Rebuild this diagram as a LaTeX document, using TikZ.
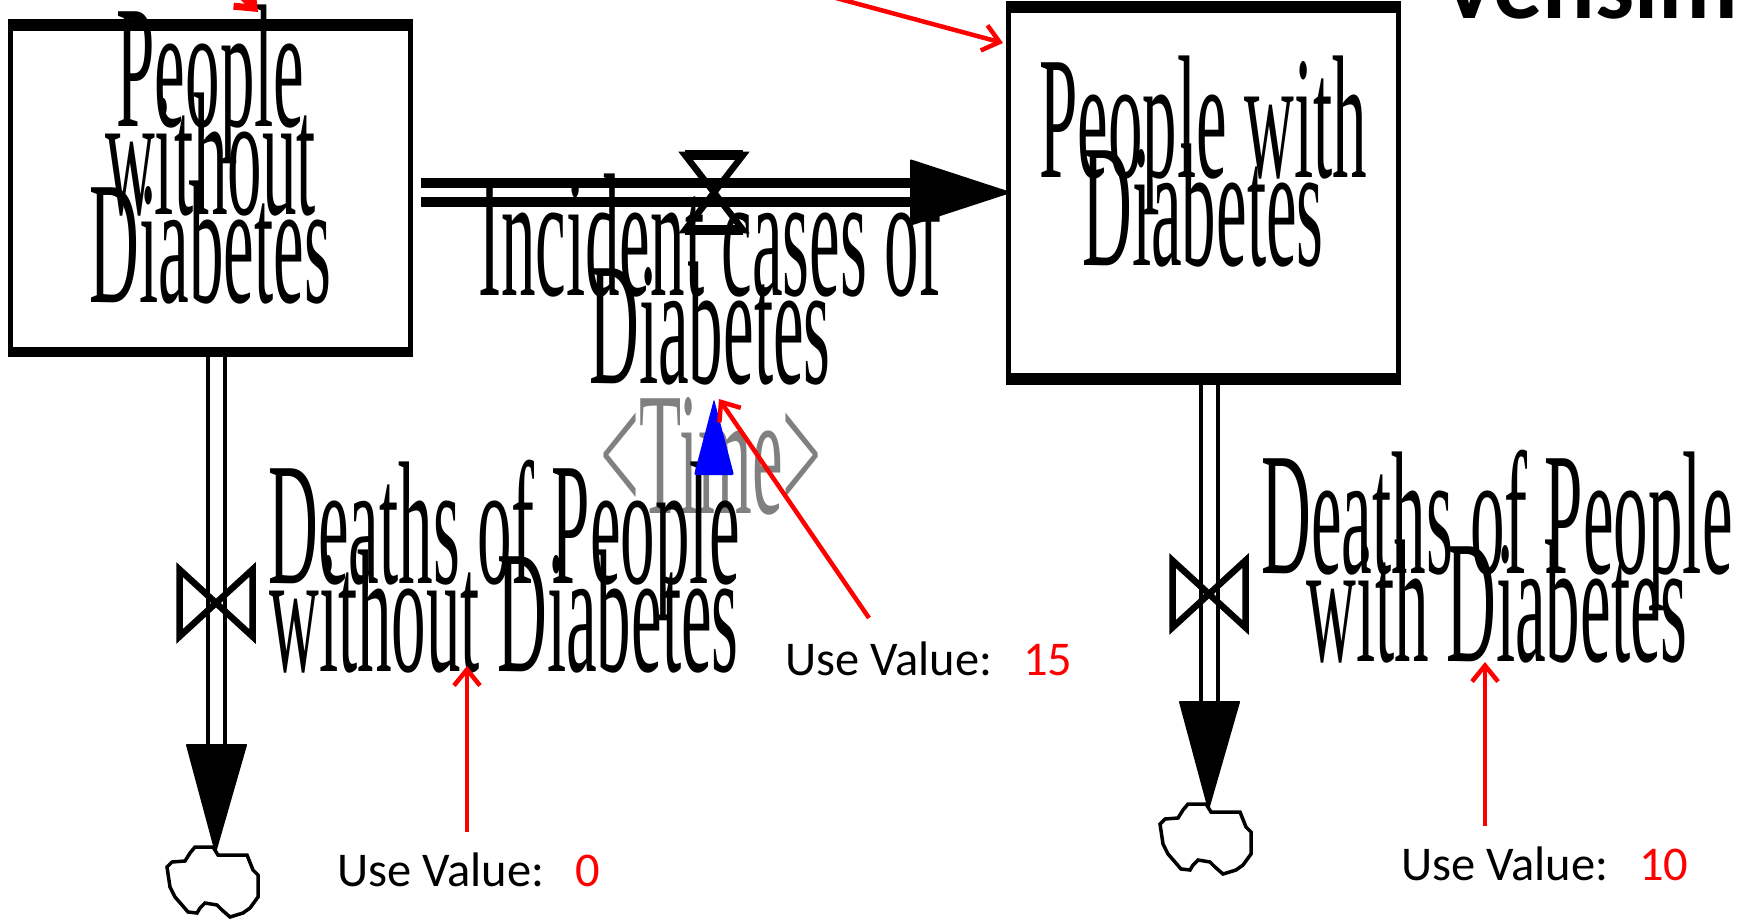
\documentclass[tikz,border=0pt]{standalone}
\usepackage{fontspec}
\setmainfont{Liberation Serif}
\newfontfamily\calfont{Carlito}
\usetikzlibrary{arrows.meta}
\definecolor{vred}{RGB}{255,0,0}
\definecolor{vblue}{RGB}{0,0,255}
\definecolor{vgray}{RGB}{128,128,128}
\newcommand\vt[2][34.6pt]{\scalebox{1}[2.54]{\vbox{\lineskiplimit=-\maxdimen\baselineskip=#1\relax\halign{\hfil##\hfil\cr#2\crcr}}}}
\newcommand\stockframe[3]{%
  \fill (#1.north west) rectangle ([yshift=-#2]#1.north east);
  \fill (#1.south west) rectangle ([yshift=#3]#1.south east);
  \fill (#1.north west) rectangle ([xshift=5pt]#1.south west);
  \fill (#1.north east) rectangle ([xshift=-5pt]#1.south east);}
\begin{document}
\begin{tikzpicture}[x=1pt,y=-1pt,
  vtext/.style={inner sep=0pt, anchor=base, font=\fontsize{69}{34.6}\selectfont},
  useval/.style={inner sep=0pt, anchor=base west, font=\calfont\fontsize{48.5}{58}\selectfont},
  stockbox/.style={inner sep=0pt, draw=none},
  pipeV/.style={line width=4pt, double=white, double distance=13pt},
  pipeH/.style={line width=10pt, double=white, double distance=9pt},
  valveline/.style={line width=6.5pt},
  cloudline/.style={line width=3.5pt},
  redarrow/.style={draw=vred, line width=4.5pt, -{Straight Barb[length=16pt,width=26pt]}},
  flowhead/.style={fill=black, draw=black, line width=2pt, line join=round},
]
\useasboundingbox (0,0) rectangle (1752,920);

% stocks
\node[stockbox, minimum width=405pt, minimum height=338pt] (pwo) at (210.5,188) {};
\node[stockbox, minimum width=395pt, minimum height=384pt] (pw) at (1203.5,193) {};
\stockframe{pwo}{12pt}{10pt}
\stockframe{pw}{12pt}{12pt}

% named points
\coordinate (v0) at (714,192.5);
\coordinate (v1) at (216,603);
\coordinate (v2) at (1209,594);
\coordinate (h0) at (911,192.5);
\coordinate (h0tip) at (1009,192.5);
\coordinate (c1top) at (216.5,745);
\coordinate (c1tip) at (215.5,851);
\coordinate (c2top) at (1209.5,702);
\coordinate (c2tip) at (1208.5,808);
\coordinate (cl1) at (213,847);
\coordinate (cl2) at (1206,804);

% pipes
\draw[pipeH] ([xshift=8pt]pwo.east |- v0) -- (h0);
\draw[pipeV] ([xshift=6pt]pwo.south) -- (c1top);
\draw[pipeV] ([xshift=6pt]pw.south) -- (c2top);

% flow arrowheads
\filldraw[flowhead] ([yshift=32pt]h0) -- ([yshift=-32pt]h0) -- (h0tip) -- cycle;
\filldraw[flowhead] ([xshift=-29.5pt]c1top) -- ([xshift=29.5pt]c1top) -- (c1tip) -- cycle;
\filldraw[flowhead] ([xshift=-29.5pt]c2top) -- ([xshift=29.5pt]c2top) -- (c2tip) -- cycle;

% valves
\draw[valveline] ([shift={(-29,-37.5)}]v0) -- ([shift={(29,-37.5)}]v0) -- ([shift={(-29,37.5)}]v0) -- ([shift={(29,37.5)}]v0) -- cycle;
\fill ([shift={(-29,-42.5)}]v0) rectangle ([shift={(29,-32.5)}]v0);
\fill ([shift={(-29,32.5)}]v0) rectangle ([shift={(29,42.5)}]v0);
\draw[valveline] ([shift={(-36.5,-33.5)}]v1) -- ([shift={(36.5,33.5)}]v1) -- ([shift={(36.5,-33.5)}]v1) -- ([shift={(-36.5,33.5)}]v1) -- cycle;
\draw[valveline] ([shift={(-36.5,-33.5)}]v2) -- ([shift={(36.5,33.5)}]v2) -- ([shift={(36.5,-33.5)}]v2) -- ([shift={(-36.5,33.5)}]v2) -- cycle;

% clouds
\foreach \c in {cl1,cl2}{
\draw[cloudline] ([shift={(-18,0)}]\c) -- ([shift={(0,0)}]\c) -- ([shift={(5,8)}]\c) -- ([shift={(34,8)}]\c) -- ([shift={(40,23)}]\c) -- ([shift={(45,28)}]\c) -- ([shift={(45,50)}]\c) -- ([shift={(37,61)}]\c) -- ([shift={(30,66)}]\c) -- ([shift={(17,70)}]\c) -- ([shift={(9,63)}]\c) -- ([shift={(4,58)}]\c) -- ([shift={(-8,56)}]\c) -- ([shift={(-13,61)}]\c) -- ([shift={(-16,66)}]\c) -- ([shift={(-25,65)}]\c) -- ([shift={(-31,58)}]\c) -- ([shift={(-38,50)}]\c) -- ([shift={(-43,40)}]\c) -- ([shift={(-46,20)}]\c) -- ([shift={(-41,15)}]\c) -- ([shift={(-28,14)}]\c) -- ([shift={(-23,6)}]\c) -- cycle;
}

% texts
\node[vtext] (t1) at (210.5,302) {\vt{People\cr without\cr Diabetes}};
\node[vtext] (t2) at (1203,265) {\vt{People with\cr Diabetes}};
\node[vtext] (t3) at (710,383) {\vt{Incident cases of\cr Diabetes}};
\node[vtext, text=vgray] (t4) at (711,513) {\vt{<Time>}};
\node[vtext] (t5) at (504,671) {\vt{Deaths of People\cr without Diabetes}};
\node[vtext] (t6) at (1497,661) {\vt{Deaths of People\cr with Diabetes}};
\node[inner sep=0pt, anchor=base west, font=\calfont\bfseries\fontsize{98}{104}\selectfont] (vs) at (1440,19) {Vensim};

% blue connector head
\coordinate (bt) at (714,399);
\fill[vblue, rounded corners=2pt] ([shift={(-20,76)}]bt) -- (bt) -- ([shift={(20,76)}]bt) -- cycle;

% use values
\node[useval] (u15) at (785,675) {Use Value:\hspace{31pt}\textcolor{vred}{15}};
\node[useval] (u0) at (337,886) {Use Value:\hspace{31pt}\textcolor{vred}{0}};
\node[useval] (u10) at (1401,880) {Use Value:\hspace{31pt}\textcolor{vred}{10}};

% red pointers
\coordinate (r15a) at (869,618);
\coordinate (r15b) at (719,399);
\coordinate (r0a) at (467,832);
\coordinate (r0b) at (467,666);
\coordinate (r10a) at (1485,826);
\coordinate (r10b) at (1485,662);
\coordinate (rta) at (810,-9);
\coordinate (rtb) at (1003,43);
\coordinate (rla) at (205,-40);
\coordinate (rlb) at (258,12);
\draw[redarrow] (r15a) -- (r15b);
\draw[redarrow] (r0a) -- (r0b);
\draw[redarrow] (r10a) -- (r10b);
\draw[redarrow] (rta) -- (rtb);
\draw[redarrow, line width=7pt] (rla) -- (rlb);
\end{tikzpicture}
\end{document}
